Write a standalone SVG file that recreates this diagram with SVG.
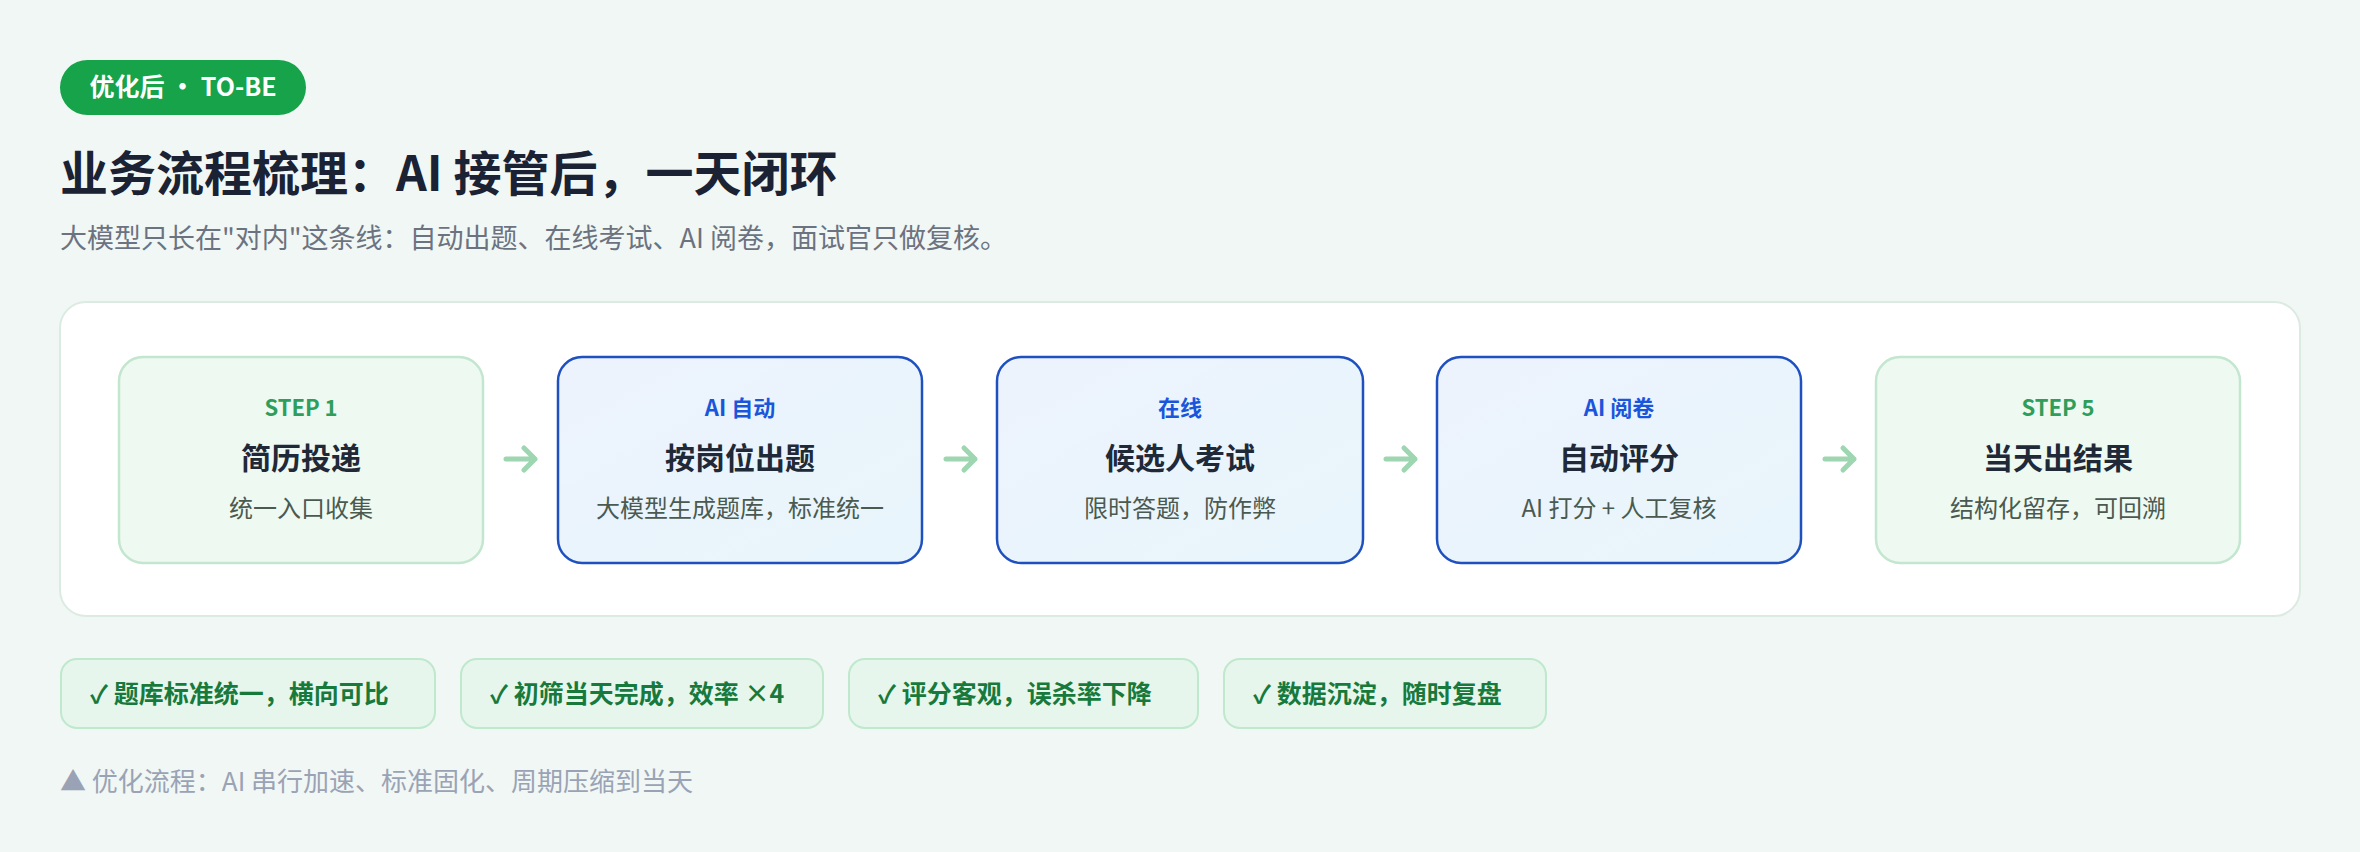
<svg xmlns="http://www.w3.org/2000/svg" width="2360" height="852" viewBox="0 0 2360 852">
<style>
text{font-family:"Noto Sans CJK SC","Noto Sans",sans-serif}
.g{fill:#eef9f1;stroke:#c3e6cf;stroke-width:2.5}
.b{fill:url(#bg);stroke:#1f50c0;stroke-width:2.5}
.lg{fill:#2f9e5a;font-size:22px;font-weight:700}
.lb{fill:#1a56db;font-size:22px;font-weight:700}
.t{fill:#1f2937;font-size:30px;font-weight:700}
.d{fill:#4b5a50;font-size:24px}
.chip rect{fill:#e6f6ec;stroke:#bfe8cd;stroke-width:2}
.chip text{fill:#177a3c;font-size:25px;font-weight:700}
.arr{stroke:#9dd6b0;stroke-width:5;fill:none;stroke-linecap:round;stroke-linejoin:round}
</style>
<defs>
<linearGradient id="bg" x1="0" y1="0" x2="1" y2="1"><stop offset="0" stop-color="#edf3fd"/><stop offset="1" stop-color="#e8f5fb"/></linearGradient>
</defs>
<rect width="2360" height="852" fill="#f1f7f4"/>
<g id="badge"><rect x="60" y="60" width="246" height="55" rx="27.5" fill="#16a34a"/><text x="183" y="96" text-anchor="middle" fill="#fff" font-size="25" font-weight="700">优化后 · TO-BE</text></g>
<text x="60" y="191" font-size="48" font-weight="700" fill="#1a2233">业务流程梳理：AI 接管后，一天闭环</text>
<text x="60" y="248" font-size="27" fill="#6b7280">大模型只长在"对内"这条线：自动出题、在线考试、AI 阅卷，面试官只做复核。</text>
<rect x="60" y="302" width="2240" height="314" rx="26" fill="#fff" stroke="#dcebe2" stroke-width="2"/>
<g id="n1"><rect class="g" x="119" y="357" width="364" height="206" rx="24"/><text class="lg" x="301" y="416" text-anchor="middle">STEP 1</text><text class="t" x="301" y="469" text-anchor="middle">简历投递</text><text class="d" x="301" y="517" text-anchor="middle">统一入口收集</text></g>
<g id="n2"><rect class="b" x="558" y="357" width="364" height="206" rx="24"/><text class="lb" x="740" y="416" text-anchor="middle">AI 自动</text><text class="t" x="740" y="469" text-anchor="middle">按岗位出题</text><text class="d" x="740" y="517" text-anchor="middle">大模型生成题库，标准统一</text></g>
<g id="n3"><rect class="b" x="997" y="357" width="366" height="206" rx="24"/><text class="lb" x="1180" y="416" text-anchor="middle">在线</text><text class="t" x="1180" y="469" text-anchor="middle">候选人考试</text><text class="d" x="1180" y="517" text-anchor="middle">限时答题，防作弊</text></g>
<g id="n4"><rect class="b" x="1437" y="357" width="364" height="206" rx="24"/><text class="lb" x="1619" y="416" text-anchor="middle">AI 阅卷</text><text class="t" x="1619" y="469" text-anchor="middle">自动评分</text><text class="d" x="1619" y="517" text-anchor="middle">AI 打分 + 人工复核</text></g>
<g id="n5"><rect class="g" x="1876" y="357" width="364" height="206" rx="24"/><text class="lg" x="2058" y="416" text-anchor="middle">STEP 5</text><text class="t" x="2058" y="469" text-anchor="middle">当天出结果</text><text class="d" x="2058" y="517" text-anchor="middle">结构化留存，可回溯</text></g>
<g id="connectors">
<path class="arr" d="M506 459H535M524 448L535 459L524 470"/>
<path class="arr" d="M946 459H975M964 448L975 459L964 470"/>
<path class="arr" d="M1386 459H1415M1404 448L1415 459L1404 470"/>
<path class="arr" d="M1825 459H1854M1843 448L1854 459L1843 470"/>
</g>
<g class="chip" id="c1"><rect x="61" y="659" width="374" height="69" rx="16"/><text x="90" y="703">✓ 题库标准统一，横向可比</text></g>
<g class="chip" id="c2"><rect x="461" y="659" width="362" height="69" rx="16"/><text x="490" y="703">✓ 初筛当天完成，效率 ×4</text></g>
<g class="chip" id="c3"><rect x="849" y="659" width="349" height="69" rx="16"/><text x="878" y="703">✓ 评分客观，误杀率下降</text></g>
<g class="chip" id="c4"><rect x="1224" y="659" width="322" height="69" rx="16"/><text x="1253" y="703">✓ 数据沉淀，随时复盘</text></g>
<text x="60" y="791" font-size="26" fill="#9aa3b5">▲ 优化流程：AI 串行加速、标准固化、周期压缩到当天</text>
</svg>
